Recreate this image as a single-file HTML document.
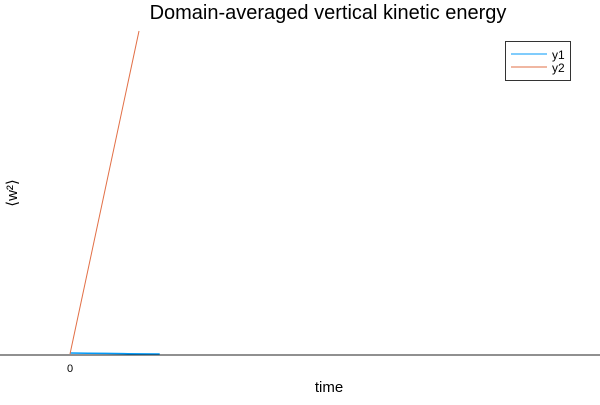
<!DOCTYPE html>
<html><head><meta charset="utf-8"><style>
body{margin:0;background:#fff;font-family:"Liberation Sans","DejaVu Sans",sans-serif}
</style></head><body>
<svg width="600" height="400" xmlns="http://www.w3.org/2000/svg">
<rect width="600" height="400" fill="#fff"/>
<text x="328" y="19" font-size="20" text-anchor="middle">Domain-averaged vertical kinetic energy</text>
<text x="329" y="392" font-size="15" text-anchor="middle">time</text>
<text transform="translate(17,193) rotate(-90)" font-size="15" text-anchor="middle">⟨w²⟩</text>
<g id="marks"></g>
<line x1="0" y1="355" x2="600" y2="355" stroke="#222" stroke-width="1"/>
<g id="ticks"></g>
<g>
<rect x="505.5" y="41.5" width="65" height="39" fill="#fff" stroke="#333"/>
<line x1="511" y1="54" x2="547" y2="54" stroke="#009af9"/>
<text x="552" y="59" font-size="12">y1</text>
<line x1="511" y1="67" x2="547" y2="67" stroke="#e26f46"/>
<text x="552" y="72" font-size="12">y2</text>
</g>
</svg>
<script>
const xTickValues=[0];
const xTickLabels=["0"];
const y1Times=[0,0.26,0.52,0.78,1.04,1.3];
const y1Values=[0.003,0.0025,0.0018,0.001,0.0005,0];
const y2Times=[0,1];
const y2Values=[0,1];
const sx=t=>70+t*69;
const sy=v=>354-v*323;
const NS="http://www.w3.org/2000/svg";
const marks=document.getElementById('marks');
function line(ts,vs,color,name){
  const p=document.createElementNS(NS,'polyline');
  p.setAttribute('points',ts.map((t,i)=>sx(t)+','+sy(vs[i])).join(' '));
  p.setAttribute('fill','none');p.setAttribute('stroke',color);p.setAttribute('stroke-width',name==='series-y1'?'1.5':'1');
  
  
  marks.appendChild(p);
}
line(y1Times,y1Values,'#009af9','series-y1');
line(y2Times,y2Values,'#e26f46','series-y2');
const tg=document.getElementById('ticks');
xTickValues.forEach((v,i)=>{
  const t=document.createElementNS(NS,'text');
  t.setAttribute('x',sx(v));t.setAttribute('y',372);t.setAttribute('font-size','11');t.setAttribute('text-anchor','middle');
  t.textContent=xTickLabels[i];
  
  
  tg.appendChild(t);
});
</script>
</body></html>
